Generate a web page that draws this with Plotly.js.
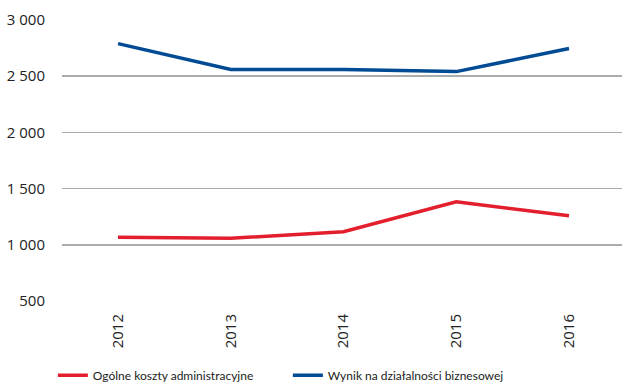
<!DOCTYPE html>
<html>
<head>
<meta charset="utf-8">
<script src="https://cdn.plot.ly/plotly-3.0.1.min.js"></script>
<style>html,body{margin:0;padding:0;background:#fff;}#chart{width:622px;height:383px;}</style>
</head>
<body>
<div id="chart"></div>
<script>
const years = ['2012', '2013', '2014', '2015', '2016'];
const adminCosts = [1067, 1058, 1116, 1383, 1258];
const businessResult = [2790, 2560, 2560, 2541, 2746];
const seriesNames = ['Ogólne koszty administracyjne', 'Wynik na działalności biznesowej'];

const traces = [
  {x: years, y: adminCosts, name: seriesNames[0], type: 'scatter', mode: 'lines',
   line: {color: '#E31E2D', width: 3.5}},
  {x: years, y: businessResult, name: seriesNames[1], type: 'scatter', mode: 'lines',
   line: {color: '#004B93', width: 3.5}}
];

const layout = {
  width: 622, height: 383,
  margin: {l: 62, r: 0, t: 20, b: 82},
  paper_bgcolor: '#fff', plot_bgcolor: '#fff',
  separators: ', ',
  font: {family: 'Open Sans, sans-serif', color: '#222'},
  xaxis: {
    type: 'category', range: [-0.497, 4.47],
    showgrid: false, zeroline: false, showline: false, ticks: '',
    tickangle: -90, tickfont: {size: 15, family: 'Open Sans'},
    ticklabelstandoff: 9
  },
  yaxis: {
    range: [500, 3000], tickvals: [500, 1000, 1500, 2000, 2500, 3000],
    tickformat: ',d', showgrid: true, gridcolor: '#ababab', gridwidth: 1.5,
    zeroline: false, showline: false, ticks: '',
    tickfont: {size: 15, family: 'Open Sans'}, ticklabelstandoff: 16
  },
  showlegend: true,
  legend: {
    orientation: 'h', xref: 'container', yref: 'container',
    x: 0.085, xanchor: 'left', y: 0.02, yanchor: 'middle',
    font: {size: 12, family: 'Lato', color: '#222'},
    entrywidth: 190, entrywidthmode: 'pixels'
  }
};

Plotly.newPlot('chart', traces, layout, {displayModeBar: false, staticPlot: true});
</script>
</body>
</html>
